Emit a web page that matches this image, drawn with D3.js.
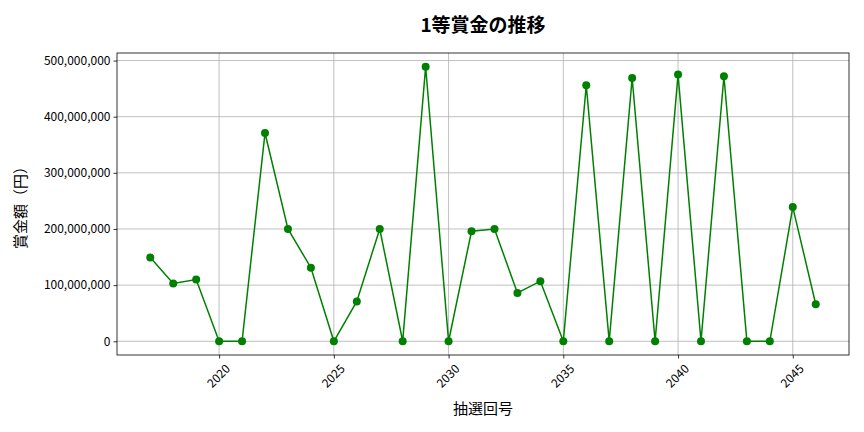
<!DOCTYPE html>
<html>
<head>
<meta charset="utf-8">
<script src="https://cdn.jsdelivr.net/npm/d3@7"></script>
<style>
  body { margin: 0; background: #fff; }
  svg { font-family: "Noto Sans CJK JP", "Noto Sans", sans-serif; }
</style>
</head>
<body>
<div id="chart"></div>
<script>
// draw numbers (抽選回号) and 1st prize amounts (yen)
const rounds = [2017, 2018, 2019, 2020, 2021, 2022, 2023, 2024, 2025, 2026,
                2027, 2028, 2029, 2030, 2031, 2032, 2033, 2034, 2035, 2036,
                2037, 2038, 2039, 2040, 2041, 2042, 2043, 2044, 2045, 2046];
const prizes = [149e6, 103e6, 110e6, 0, 0, 371e6, 200e6, 131e6, 0, 71e6,
                200e6, 0, 489e6, 0, 196e6, 200e6, 86e6, 107e6, 0, 456e6,
                0, 469e6, 0, 475e6, 0, 472e6, 0, 0, 239e6, 66e6];
const xTicks = [2020, 2025, 2030, 2035, 2040, 2045];
const yTicks = [0, 100e6, 200e6, 300e6, 400e6, 500e6];

const W = 864, H = 432;
const m = { left: 117, right: 15, top: 53, bottom: 77 };
const pw = W - m.left - m.right, ph = H - m.top - m.bottom;
const FONT = '"Noto Sans CJK JP", "Noto Sans", sans-serif';

const svg = d3.select("#chart").append("svg")
  .attr("width", W).attr("height", H);

const xPad = (d3.max(rounds) - d3.min(rounds)) * 0.05;
const x = d3.scaleLinear()
  .domain([d3.min(rounds) - xPad, d3.max(rounds) + xPad])
  .range([m.left, m.left + pw]);
const yPad = d3.max(prizes) * 0.05;
const y = d3.scaleLinear()
  .domain([-yPad, d3.max(prizes) + yPad])
  .range([m.top + ph, m.top]);

// grid
svg.append("g").selectAll("line").data(xTicks).join("line")
  .attr("x1", d => x(d)).attr("x2", d => x(d))
  .attr("y1", m.top).attr("y2", m.top + ph)
  .attr("stroke", "#b0b0b0").attr("stroke-width", 0.8);
svg.append("g").selectAll("line").data(yTicks).join("line")
  .attr("x1", m.left).attr("x2", m.left + pw)
  .attr("y1", d => y(d)).attr("y2", d => y(d))
  .attr("stroke", "#b0b0b0").attr("stroke-width", 0.8);

// axes
const xAxis = svg.append("g")
  .attr("transform", `translate(0,${m.top + ph})`)
  .call(d3.axisBottom(x).tickValues(xTicks).tickSize(3.5).tickFormat(d3.format("d")));
xAxis.selectAll("text")
  .attr("font-size", 12)
  .attr("fill", "#000")
  .attr("text-anchor", "middle")
  .attr("dy", "0.35em").attr("y", 0)
  .attr("transform", "translate(-1,21) rotate(-45)");

const yAxis = svg.append("g")
  .attr("transform", `translate(${m.left},0)`)
  .call(d3.axisLeft(y).tickValues(yTicks).tickSize(3.5).tickFormat(d3.format(",")));
yAxis.selectAll("text").attr("font-size", 12).attr("fill", "#000");

[xAxis, yAxis].forEach(a => {
  a.attr("font-family", FONT);
  a.select(".domain").remove();
  a.selectAll(".tick line").attr("stroke", "#000").attr("stroke-width", 0.8);
});

svg.append("rect")
  .attr("x", m.left).attr("y", m.top).attr("width", pw).attr("height", ph)
  .attr("fill", "none").attr("stroke", "#000").attr("stroke-width", 0.8);

// line + markers
const pts = rounds.map((r, i) => [r, prizes[i]]);
svg.append("path")
  .datum(pts)
  .attr("fill", "none")
  .attr("stroke", "green")
  .attr("stroke-width", 1.5)
  .attr("d", d3.line().x(d => x(d[0])).y(d => y(d[1])));
svg.append("g").selectAll("circle").data(pts).join("circle")
  .attr("cx", d => x(d[0])).attr("cy", d => y(d[1]))
  .attr("r", 4).attr("fill", "green");

// labels
svg.append("text")
  .attr("x", m.left + pw / 2).attr("y", 32)
  .attr("text-anchor", "middle")
  .attr("font-size", 19).attr("font-weight", "bold")
  .text("1等賞金の推移");
svg.append("text")
  .attr("x", m.left + pw / 2).attr("y", 414)
  .attr("text-anchor", "middle")
  .attr("font-size", 15)
  .text("抽選回号");
svg.append("text")
  .attr("transform", `translate(26,${m.top + ph / 2}) rotate(-90)`)
  .attr("text-anchor", "middle")
  .attr("font-size", 15)
  .text("賞金額（円）");
</script>
</body>
</html>
